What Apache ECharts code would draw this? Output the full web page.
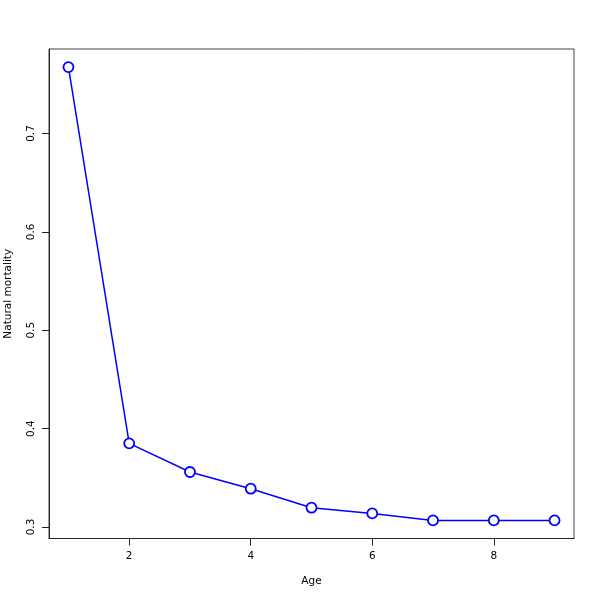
<!DOCTYPE html>
<html>
<head>
<meta charset="utf-8">
<script src="https://cdn.jsdelivr.net/npm/echarts@6/dist/echarts.min.js"></script>
<style>html,body{margin:0;padding:0;background:#fff}#c{width:600px;height:600px}</style>
</head>
<body>
<div id="c"></div>
<script>
const ages = [1, 2, 3, 4, 5, 6, 7, 8, 9];
const mortality = [0.7675, 0.385, 0.3559, 0.3389, 0.3196, 0.3138, 0.3067, 0.3067, 0.3067];
const xTicks = [2, 4, 6, 8];
const yTicks = [0.3, 0.4, 0.5, 0.6, 0.7];

const FONT = 'DejaVu Sans';
const chart = echarts.init(document.getElementById('c'), null, {renderer: 'canvas'});
chart.setOption({
  animation: false,
  backgroundColor: '#fff',
  grid: {left: 49, right: 26, top: 49, bottom: 61.5, containLabel: false, outerBoundsMode: 'none',
    show: true, borderColor: '#444', borderWidth: 1, backgroundColor: 'transparent'},
  xAxis: {
    type: 'value', min: 0.68, max: 9.32,
    name: 'Age', nameLocation: 'middle', nameGap: 37,
    nameTextStyle: {fontFamily: FONT, fontSize: 10.5, color: '#000'},
    axisLine: {show: true, onZero: false, lineStyle: {color: '#222', width: 1}},
    axisTick: {show: true, length: 7, customValues: xTicks, lineStyle: {color: '#222'}},
    axisLabel: {customValues: xTicks, margin: 12, fontFamily: FONT, fontSize: 10.5, color: '#000'},
    splitLine: {show: false}
  },
  yAxis: {
    type: 'value', min: 0.2883, max: 0.7859,
    name: 'Natural mortality', nameLocation: 'middle', nameGap: 35,
    nameTextStyle: {fontFamily: FONT, fontSize: 10.5, color: '#000'},
    axisLine: {show: true, onZero: false, lineStyle: {color: '#222', width: 1}},
    axisTick: {show: true, length: 7, customValues: yTicks, lineStyle: {color: '#222'}},
    axisLabel: {customValues: yTicks, rotate: 90, margin: 12, fontFamily: FONT, fontSize: 10.5, color: '#000',
      formatter: v => (Math.round(v * 10) / 10).toString()},
    splitLine: {show: false}
  },
  series: [{
    type: 'line',
    data: ages.map((a, i) => [a, mortality[i]]),
    symbol: 'circle', symbolSize: 10,
    itemStyle: {color: '#fff', borderColor: '#0000ff', borderWidth: 1.8},
    lineStyle: {color: '#0000ff', width: 1.5},
    emphasis: {disabled: true}
  }]
});
</script>
</body>
</html>
